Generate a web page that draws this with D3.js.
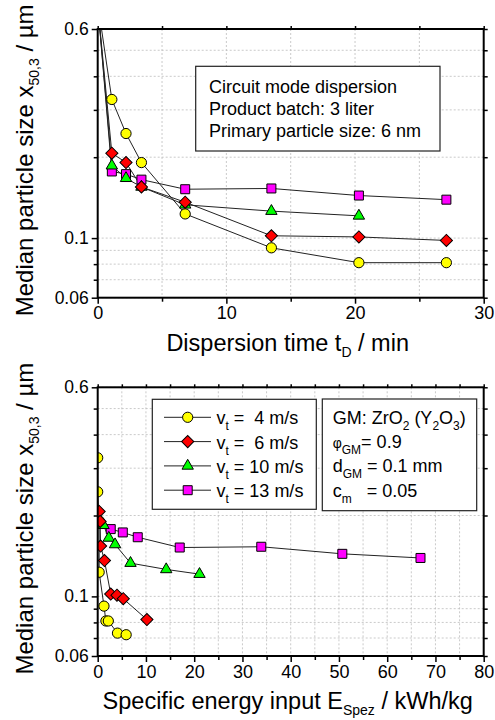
<!DOCTYPE html>
<html>
<head>
<meta charset="utf-8">
<script src="https://cdn.jsdelivr.net/npm/d3@7"></script>
<style>
  body { margin: 0; background: #fff; }
  svg { font-family: Arial, "Liberation Sans", sans-serif; }
  .pre { white-space: pre; }
</style>
</head>
<body>
<div id="chart"></div>
<script>
// --- data ---
var timeMin = [0, 1.1, 2.2, 3.4, 6.8, 13.5, 20.3, 27.1];
var sizeT4  = [0.75, 0.328, 0.245, 0.191, 0.123, 0.092, 0.081, 0.081];
var sizeT6  = [0.74, 0.207, 0.191, 0.155, 0.136, 0.102, 0.101, 0.098];
var sizeT10 = [0.74, 0.186, 0.167, 0.155, 0.133, 0.126, 0.121];
var sizeT13 = [0.74, 0.177, 0.173, 0.165, 0.152, 0.153, 0.144, 0.139];

var energy4  = [0, 0, 0.3, 0.3, 1.3, 1.7, 2.2, 4.1, 5.9];
var sizeE4   = [0.328, 0.245, 0.191, 0.123, 0.092, 0.081, 0.081, 0.073, 0.072];
var energy6  = [0.3, 0.5, 0.6, 1.4, 2.7, 4.0, 5.3, 10.2];
var sizeE6   = [0.207, 0.190, 0.154, 0.136, 0.102, 0.101, 0.098, 0.082];
var energy10 = [1.2, 2.3, 3.6, 6.8, 14.2, 21.1];
var sizeE10  = [0.184, 0.165, 0.156, 0.133, 0.126, 0.121];
var energy13 = [2.7, 5.2, 8.3, 17.0, 33.9, 50.7, 66.9];
var sizeE13  = [0.178, 0.173, 0.166, 0.152, 0.153, 0.144, 0.139];

var speeds = ["4", "6", "10", "13"];
var legendText = ["=  4 m/s", "=  6 m/s", "= 10 m/s", "= 13 m/s"];
var yMajor = [0.06, 0.1, 0.6];
var yMinor = [0.07, 0.08, 0.09, 0.2, 0.3, 0.4, 0.5];

var W = 495, H = 720;
var svg = d3.select("#chart").append("svg")
    .attr("width", W).attr("height", H);

// marker styles per speed
var styles = [
  {fill: "#ffff00", type: "circle"},
  {fill: "#ff0000", type: "diamond"},
  {fill: "#00ff00", type: "triangle"},
  {fill: "#ff00ff", type: "square"}
];
function markerPath(type) {
  if (type == "circle") return d3.symbol().type(d3.symbolCircle).size(82)();
  if (type == "square") return d3.symbol().type(d3.symbolSquare).size(81)();
  if (type == "triangle") return d3.symbol().type(d3.symbolTriangle).size(56)();
  return d3.symbol().type(d3.symbolSquare).size(74)();
}
function drawMarker(g, type, fill, x, y) {
  g.append("path")
    .attr("d", markerPath(type))
    .attr("transform", "translate(" + x + "," + y + ")" + (type == "diamond" ? " rotate(45)" : ""))
    .attr("fill", fill)
    .attr("stroke", "#000")
    .attr("stroke-width", 1);
}

function panel(opt) {
  var left = 97.7, right = 483.7;
  var x = d3.scaleLinear().domain(opt.xDomain).range([left, right]);
  var y = d3.scaleLog().domain([0.06, 0.6]).range([opt.bottom, opt.top]);
  var g = svg.append("g");

  // grid
  var grid = g.append("g").attr("stroke", "#bdbdbd").attr("stroke-width", 0.8)
      .attr("stroke-dasharray", "2,2");
  grid.selectAll("line.v").data(opt.xGrid).enter().append("line")
    .attr("x1", d => x(d)).attr("x2", d => x(d))
    .attr("y1", opt.top).attr("y2", opt.bottom);
  grid.selectAll("line.h").data(yMajor.concat(yMinor)).enter().append("line")
    .attr("y1", d => y(d)).attr("y2", d => y(d))
    .attr("x1", left).attr("x2", right);

  // axes (major + minor ticks, mirrored on top/right)
  function styleAxis(sel) {
    sel.select(".domain").remove();
    sel.selectAll(".tick line").attr("stroke", "#000").attr("stroke-width", 1.5);
  }
  g.append("g").attr("transform", "translate(0," + opt.bottom + ")")
    .call(d3.axisBottom(x).tickValues(opt.xMajor).tickSize(6).tickPadding(3).tickFormat(d3.format("d")))
    .call(styleAxis)
    .selectAll("text").attr("font-size", 18).attr("fill", "#000");
  g.append("g").attr("transform", "translate(0," + opt.bottom + ")")
    .call(d3.axisBottom(x).tickValues(opt.xMinor).tickSize(4).tickFormat(""))
    .call(styleAxis);
  g.append("g").attr("transform", "translate(0," + opt.top + ")")
    .call(d3.axisTop(x).tickValues(opt.xMajor.concat(opt.xMinor)).tickSize(3).tickFormat(""))
    .call(styleAxis);
  g.append("g").attr("transform", "translate(" + left + ",0)")
    .call(d3.axisLeft(y).tickValues(yMajor).tickSize(6).tickPadding(3).tickFormat(d3.format("")))
    .call(styleAxis)
    .selectAll("text").attr("font-size", 17.5).attr("fill", "#000");
  g.append("g").attr("transform", "translate(" + left + ",0)")
    .call(d3.axisLeft(y).tickValues(yMinor).tickSize(4).tickFormat(""))
    .call(styleAxis);
  g.append("g").attr("transform", "translate(" + right + ",0)")
    .call(d3.axisRight(y).tickValues(yMajor.concat(yMinor)).tickSize(4).tickFormat(""))
    .call(styleAxis);

  // data, clipped to the frame
  var clipId = "clip" + opt.id;
  g.append("clipPath").attr("id", clipId).append("rect")
    .attr("x", left).attr("y", opt.top).attr("width", right - left).attr("height", opt.bottom - opt.top);
  var data = g.append("g").attr("clip-path", "url(#" + clipId + ")");
  var line = d3.line().x(d => x(d[0])).y(d => y(d[1]));
  opt.series.forEach(function(s) {
    data.append("path").datum(s.pts).attr("d", line)
      .attr("fill", "none").attr("stroke", "#222").attr("stroke-width", 1);
  });
  [3, 2, 0, 1].forEach(function(i) {
    var s = opt.series[i];
    s.pts.forEach(function(p) {
      drawMarker(data, styles[i].type, styles[i].fill, x(p[0]), y(p[1]));
    });
  });

  // frame
  g.append("rect").attr("x", left).attr("y", opt.top)
    .attr("width", right - left).attr("height", opt.bottom - opt.top)
    .attr("fill", "none").attr("stroke", "#000").attr("stroke-width", 2);

  // y title
  var yt = g.append("text")
    .attr("transform", "translate(33," + ((opt.top + opt.bottom) / 2 - 3) + ") rotate(-90)")
    .attr("text-anchor", "middle").attr("font-size", 24).attr("fill", "#000");
  yt.append("tspan").text("Median particle size x");
  yt.append("tspan").attr("font-size", 14).attr("dy", 6).text("50,3");
  yt.append("tspan").attr("dy", -6).attr("class", "pre").text(" / µm");

  // x title
  var xt = g.append("text")
    .attr("x", (left + right) / 2 - 3).attr("y", opt.bottom + 53)
    .attr("text-anchor", "middle").attr("font-size", 23.5).attr("fill", "#000");
  xt.append("tspan").text(opt.xTitle[0]);
  xt.append("tspan").attr("font-size", 14).attr("dy", 6).text(opt.xTitle[1]);
  xt.append("tspan").attr("dy", -6).attr("class", "pre").text(opt.xTitle[2]);

  return {g: g, x: x, y: y};
}

function zip(a, b) { return b.map((v, i) => [a[i], v]); }

var top = panel({
  id: 1, top: 29, bottom: 297.7, xDomain: [0, 30],
  xMajor: [0, 10, 20, 30], xMinor: [5, 15, 25], xGrid: [5, 10, 15, 20, 25],
  xTitle: ["Dispersion time t", "D", " / min"],
  series: [
    {pts: zip(timeMin, sizeT4)},
    {pts: zip(timeMin, sizeT6)},
    {pts: zip(timeMin, sizeT10)},
    {pts: zip(timeMin, sizeT13)}
  ]
});

var bot = panel({
  id: 2, top: 387.3, bottom: 656, xDomain: [0, 80],
  xMajor: d3.range(0, 81, 10), xMinor: d3.range(5, 80, 10), xGrid: d3.range(5, 80, 5),
  xTitle: ["Specific energy input E", "Spez", " / kWh/kg"],
  series: [
    {pts: zip(energy4, sizeE4)},
    {pts: zip(energy6, sizeE6)},
    {pts: zip(energy10, sizeE10)},
    {pts: zip(energy13, sizeE13)}
  ]
});

// info box, top panel
var info = svg.append("g");
info.append("rect").attr("x", 195.7).attr("y", 66.3).attr("width", 244.3).attr("height", 84.7)
  .attr("fill", "#fff").attr("stroke", "#222").attr("stroke-width", 1.2);
["Circuit mode dispersion", "Product batch: 3 liter", "Primary particle size: 6 nm"].forEach(function(t, i) {
  info.append("text").attr("x", 209).attr("y", 92.5 + i * 22)
    .attr("font-size", 18).attr("fill", "#000").text(t);
});

// legend, bottom panel
var leg = svg.append("g");
leg.append("rect").attr("x", 152.3).attr("y", 399.3).attr("width", 164).attr("height", 110)
  .attr("fill", "#fff").attr("stroke", "#222").attr("stroke-width", 1.2);
speeds.forEach(function(s, i) {
  var cy = 417.3 + i * 24.3;
  leg.append("line").attr("x1", 164).attr("x2", 211).attr("y1", cy).attr("y2", cy)
    .attr("stroke", "#222").attr("stroke-width", 1);
  drawMarker(leg, styles[i].type, styles[i].fill, 187.7, cy);
  var t = leg.append("text").attr("x", 216.5).attr("y", cy + 7)
    .attr("font-size", 18).attr("fill", "#000");
  t.append("tspan").text("v");
  t.append("tspan").attr("font-size", 12).attr("dy", 6).text("t");
  t.append("tspan").attr("dy", -6).attr("class", "pre").text(" " + legendText[i]);
});

// material box, bottom panel
var mat = svg.append("g");
mat.append("rect").attr("x", 322.3).attr("y", 399).attr("width", 154.4).attr("height", 111.7)
  .attr("fill", "#fff").attr("stroke", "#222").attr("stroke-width", 1.2);
var matLines = [
  [["GM: ZrO", 0], ["2", 1], [" (Y", 0], ["2", 1], ["O", 0], ["3", 1], [")", 0]],
  [["φ", 2], ["GM", 1], ["= 0.9", 0]],
  [["d", 0], ["GM", 1], [" = 0.1 mm", 0]],
  [["c", 0], ["m", 1], ["   = 0.05", 0]]
];
matLines.forEach(function(parts, i) {
  var t = mat.append("text").attr("x", 332.7).attr("y", 424 + i * 24.2)
    .attr("font-size", 18).attr("fill", "#000").attr("class", "pre");
  var sub = false;
  parts.forEach(function(p) {
    var ts = t.append("tspan").text(p[0]);
    if (p[1] == 1) { ts.attr("font-size", 12).attr("dy", sub ? 0 : 6); sub = true; }
    else {
      if (sub) ts.attr("dy", -6);
      sub = false;
      if (p[1] == 2) ts.attr("font-size", 14);
    }
  });
});
</script>
</body>
</html>
